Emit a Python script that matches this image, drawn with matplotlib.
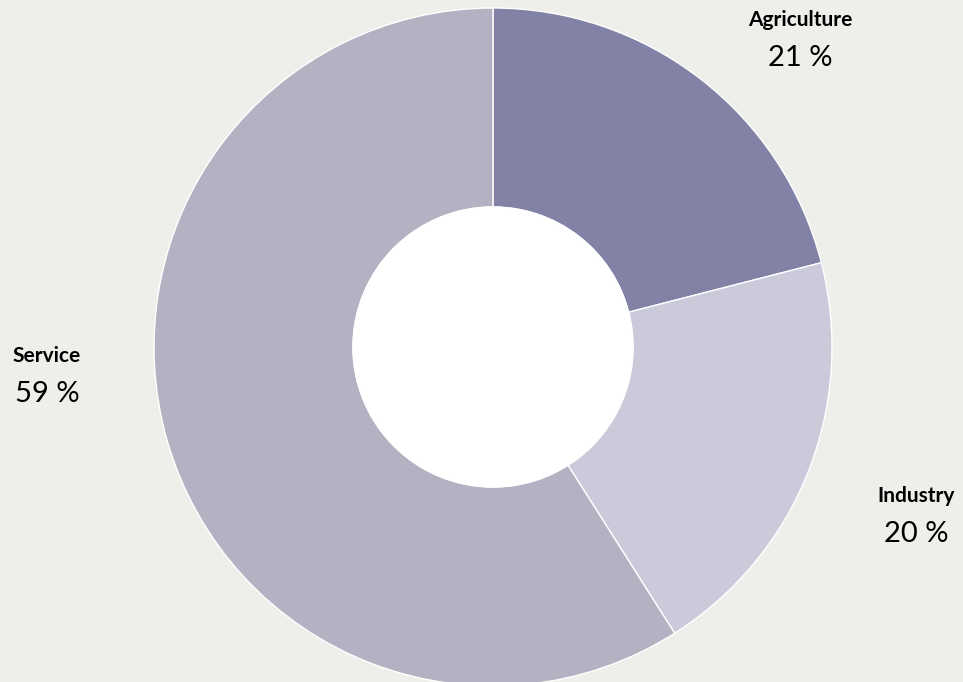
import matplotlib.pyplot as plt

# Sektore en aandele (%)
sektore = ['Agriculture', 'Industry', 'Service']
aandele = [21, 20, 59]
kleure = ['#8282A6', '#CBCADB', '#B3B1C2']

# Etiketposisies in pixels (x, y van bo af)
etiket_pos = [(800, 20), (916, 496), (47, 356)]

agtergrond = '#EEEEEA'
W, H = 963, 682

fig = plt.figure(figsize=(W / 100, H / 100), dpi=100, facecolor=agtergrond)

# Middelpunt en radius van die ring in pixels
cx, cy, r = 493, 347, 339
ax = fig.add_axes([(cx - r) / W, (H - cy - r) / H, 2 * r / W, 2 * r / H])
ax.set_facecolor(agtergrond)

binne = 140 / 339
ax.pie(aandele, colors=kleure, startangle=90, counterclock=False,
       radius=1, wedgeprops=dict(width=1 - binne, edgecolor='white', linewidth=1))
# wit gat in die middel
ax.add_patch(plt.Circle((0, 0), binne, color='white', zorder=5))
ax.set_xlim(-1, 1)
ax.set_ylim(-1, 1)
ax.set_aspect('equal')
ax.axis('off')

for naam, waarde, (px, py) in zip(sektore, aandele, etiket_pos):
    fig.text(px / W, 1 - py / H, naam, ha='center', va='center',
             fontsize=15, fontweight='bold', family='Lato', color='black')
    fig.text(px / W, 1 - (py + 38) / H, f'{waarde} %', ha='center', va='center',
             fontsize=21, family='Lato', color='black')

fig.savefig('out.png', dpi=100, facecolor=agtergrond)
